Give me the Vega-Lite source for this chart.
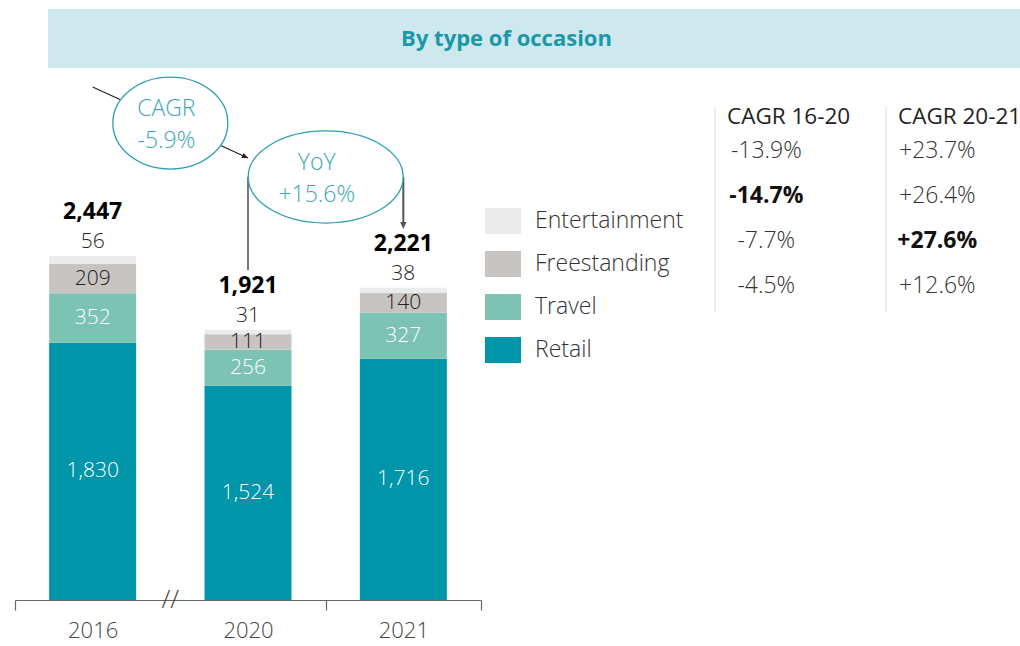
{
  "$schema": "https://vega.github.io/schema/vega-lite/v6.json",
  "background": "white",
  "padding": {"left": 14, "top": 9, "right": 0, "bottom": 4},
  "config": {
    "view": {"stroke": null},
    "font": "Open Sans",
    "locale": {"number": {"decimal": ".", "thousands": ",", "grouping": [3], "currency": ["$", ""], "minus": "-"}}
  },
  "datasets": {
    "occasion": [
      {"year": "2016", "category": "Retail", "value": 1830, "rank": 1},
      {"year": "2016", "category": "Travel", "value": 352, "rank": 2},
      {"year": "2016", "category": "Freestanding", "value": 209, "rank": 3},
      {"year": "2016", "category": "Entertainment", "value": 56, "rank": 4},
      {"year": "2020", "category": "Retail", "value": 1524, "rank": 1},
      {"year": "2020", "category": "Travel", "value": 256, "rank": 2},
      {"year": "2020", "category": "Freestanding", "value": 111, "rank": 3},
      {"year": "2020", "category": "Entertainment", "value": 31, "rank": 4},
      {"year": "2021", "category": "Retail", "value": 1716, "rank": 1},
      {"year": "2021", "category": "Travel", "value": 327, "rank": 2},
      {"year": "2021", "category": "Freestanding", "value": 140, "rank": 3},
      {"year": "2021", "category": "Entertainment", "value": 38, "rank": 4}
    ],
    "totals": [
      {"year": "2016", "total": 2447},
      {"year": "2020", "total": 1921},
      {"year": "2021", "total": 2221}
    ],
    "cagr": [
      {"period": "CAGR 16-20", "category": "Entertainment", "growth": -0.139},
      {"period": "CAGR 16-20", "category": "Freestanding", "growth": -0.147},
      {"period": "CAGR 16-20", "category": "Travel", "growth": -0.077},
      {"period": "CAGR 16-20", "category": "Retail", "growth": -0.045},
      {"period": "CAGR 20-21", "category": "Entertainment", "growth": 0.237},
      {"period": "CAGR 20-21", "category": "Freestanding", "growth": 0.264},
      {"period": "CAGR 20-21", "category": "Travel", "growth": 0.276},
      {"period": "CAGR 20-21", "category": "Retail", "growth": 0.126}
    ],
    "periods": [
      {"period": "CAGR 16-20"},
      {"period": "CAGR 20-21"}
    ]
  },
  "spacing": 4,
  "vconcat": [
    {
      "width": 973,
      "height": 59,
      "view": {"fill": "#cde9ed", "stroke": null},
      "data": {"values": [{"title": "By type of occasion"}]},
      "mark": {"type": "text", "fontSize": 22, "fontWeight": "bold", "font": "Open Sans", "color": "#1a97a9", "dx": -28},
      "encoding": {
        "text": {"field": "title"},
        "y": {"field": "title", "type": "nominal", "axis": {"labels": false, "ticks": false, "domain": false, "title": null, "minExtent": 33, "maxExtent": 33}}
      }
    },
    {
      "hconcat": [
        {
          "width": 433,
          "height": 528,
          "layer": [
            {
              "data": {"name": "occasion"},
              "mark": {"type": "bar", "width": {"band": 0.56}},
              "encoding": {
                "x": {
                  "field": "year", "type": "nominal",
                  "scale": {"paddingInner": 0, "paddingOuter": 0, "range": [-33, 433]},
                  "axis": {
                    "title": null, "labelAngle": 0, "tickBand": "extent", "tickSize": 10,
                    "tickColor": "#666", "tickWidth": 1.2, "domainColor": "#666", "domainWidth": 1.2,
                    "labelFontSize": 22, "labelFont": "Open Sans", "labelFontWeight": 300, "labelColor": "#444",
                    "labelPadding": 10,
                    "tickOpacity": {"condition": {"test": "datum.value === '2016'", "value": 0}, "value": 1}
                  }
                },
                "y": {"field": "value", "type": "quantitative", "stack": "zero", "scale": {"domain": [0, 3756], "nice": false}, "axis": null},
                "color": {
                  "field": "category", "type": "nominal",
                  "scale": {"domain": ["Entertainment", "Freestanding", "Travel", "Retail"], "range": ["#ebebeb", "#c8c4c1", "#7cc3b4", "#0095a8"]},
                  "legend": {
                    "orient": "none", "legendX": 437, "legendY": 194, "title": null,
                    "symbolType": "M -1 -0.72 L 1 -0.72 L 1 0.72 L -1 0.72 Z", "symbolSize": 1296,
                    "symbolStrokeWidth": 0, "labelFontSize": 23, "labelFont": "Open Sans", "labelFontWeight": 300,
                    "labelColor": "#333", "labelOffset": 14, "rowPadding": 12, "padding": 0
                  }
                },
                "order": {"field": "rank", "sort": "ascending"}
              }
            },
            {
              "data": {"name": "occasion"},
              "transform": [{"filter": "datum.category !== 'Entertainment'"}],
              "mark": {"type": "text", "fontSize": 21, "fontWeight": 300, "font": "Open Sans"},
              "encoding": {
                "x": {"field": "year", "type": "nominal"},
                "y": {"field": "value", "type": "quantitative", "stack": "zero", "bandPosition": 0.5},
                "detail": {"field": "category"},
                "order": {"field": "rank", "sort": "ascending"},
                "text": {"field": "value", "type": "quantitative", "format": ","},
                "color": {"condition": {"test": "datum.category === 'Freestanding'", "value": "#222"}, "value": "white"}
              }
            },
            {
              "data": {"name": "occasion"},
              "transform": [
                {"stack": "value", "groupby": ["year"], "sort": [{"field": "rank", "order": "ascending"}], "as": ["v0", "v1"]},
                {"filter": "datum.category === 'Entertainment'"}
              ],
              "mark": {"type": "text", "fontSize": 21, "fontWeight": 300, "font": "Open Sans", "baseline": "bottom", "dy": -4, "color": "#222"},
              "encoding": {
                "x": {"field": "year", "type": "nominal"},
                "y": {"field": "v1", "type": "quantitative"},
                "text": {"field": "value", "type": "quantitative", "format": ","}
              }
            },
            {
              "data": {"name": "totals"},
              "mark": {"type": "text", "fontSize": 23, "fontWeight": "bold", "font": "Open Sans", "baseline": "bottom", "dy": -32, "color": "#000"},
              "encoding": {
                "x": {"field": "year", "type": "nominal"},
                "y": {"field": "total", "type": "quantitative"},
                "text": {"field": "total", "type": "quantitative", "format": ","}
              }
            },
            {
              "data": {"values": [{}]},
              "mark": {"type": "rule", "color": "#222", "strokeWidth": 1.2},
              "encoding": {
                "x": {"datum": "2016", "type": "nominal", "bandPosition": 0.5},
                "x2": {"datum": "2020"},
                "y": {"datum": 3649, "type": "quantitative"},
                "y2": {"datum": 3144}
              }
            },
            {
              "data": {"values": [{}]},
              "mark": {"type": "point", "shape": "M 0 0 L -0.45 -1 L 0.45 -1 Z", "size": 144, "angle": 294.6, "filled": true, "color": "#222", "opacity": 1},
              "encoding": {
                "x": {"datum": "2020", "type": "nominal"},
                "y": {"datum": 3144, "type": "quantitative"}
              }
            },
            {
              "data": {"values": [{}]},
              "mark": {"type": "rule", "color": "#222", "strokeWidth": 1.2},
              "encoding": {
                "x": {"datum": "2020", "type": "nominal"},
                "y": {"datum": 3009, "type": "quantitative"},
                "y2": {"datum": 2345}
              }
            },
            {
              "data": {"values": [{}]},
              "mark": {"type": "rule", "color": "#555", "strokeWidth": 2},
              "encoding": {
                "x": {"datum": "2021", "type": "nominal"},
                "y": {"datum": 3009, "type": "quantitative"},
                "y2": {"datum": 2680}
              }
            },
            {
              "data": {"values": [{}]},
              "mark": {"type": "point", "shape": "M 0 0 L -0.45 -1 L 0.45 -1 Z", "size": 196, "filled": true, "color": "#555", "opacity": 1},
              "encoding": {
                "x": {"datum": "2021", "type": "nominal"},
                "y": {"datum": 2640, "type": "quantitative"}
              }
            },
            {
              "data": {"values": [{}]},
              "mark": {"type": "point", "shape": "M -1 0 C -1 -0.4418 -0.5523 -0.8 0 -0.8 C 0.5523 -0.8 1 -0.4418 1 0 C 1 0.4418 0.5523 0.8 0 0.8 C -0.5523 0.8 -1 0.4418 -1 0 Z", "size": 13225, "filled": true, "fill": "white", "fillOpacity": 1, "stroke": "#2b9fb1", "strokeWidth": 1.3, "opacity": 1},
              "encoding": {
                "x": {"datum": "2020", "type": "nominal", "bandPosition": 0},
                "y": {"datum": 3393, "type": "quantitative"}
              }
            },
            {
              "data": {"values": [{}]},
              "mark": {"type": "point", "shape": "M -1 0 C -1 -0.328 -0.5523 -0.594 0 -0.594 C 0.5523 -0.594 1 -0.328 1 0 C 1 0.328 0.5523 0.594 0 0.594 C -0.5523 0.594 -1 0.328 -1 0 Z", "size": 24025, "filled": true, "fill": "white", "fillOpacity": 1, "stroke": "#2b9fb1", "strokeWidth": 1.3, "opacity": 1},
              "encoding": {
                "x": {"datum": "2021", "type": "nominal", "bandPosition": 0},
                "y": {"datum": 3009, "type": "quantitative"}
              }
            },
            {
              "data": {"values": [{}]},
              "mark": {"type": "text", "text": ["CAGR", "-5.9%"], "lineHeight": 32, "fontSize": 23, "fontWeight": 300, "font": "Open Sans", "color": "#3aa7b7", "baseline": "middle", "dx": -4},
              "encoding": {
                "x": {"datum": "2020", "type": "nominal", "bandPosition": 0},
                "y": {"datum": 3493, "type": "quantitative"}
              }
            },
            {
              "data": {"values": [{}]},
              "mark": {"type": "text", "text": ["YoY", "+15.6%"], "lineHeight": 32, "fontSize": 23, "fontWeight": 300, "font": "Open Sans", "color": "#3aa7b7", "baseline": "middle", "dx": -9},
              "encoding": {
                "x": {"datum": "2021", "type": "nominal", "bandPosition": 0},
                "y": {"datum": 3109, "type": "quantitative"}
              }
            },
            {
              "data": {"values": [{}]},
              "mark": {"type": "text", "text": "//", "fontSize": 26, "fontWeight": 300, "font": "Open Sans", "color": "#444", "baseline": "middle"},
              "encoding": {
                "x": {"datum": "2020", "type": "nominal", "bandPosition": 0},
                "y": {"datum": 0, "type": "quantitative"}
              }
            }
          ]
        },
        {
          "width": 306,
          "height": 294,
          "layer": [
            {
              "data": {"name": "periods"},
              "mark": {"type": "rule", "color": "#e3e3e3", "strokeWidth": 1.2, "yOffset": -44, "y2Offset": 26},
              "encoding": {
                "x": {"field": "period", "type": "nominal", "bandPosition": 0, "scale": {"domain": ["CAGR 16-20", "CAGR 20-21"], "range": [0, 342], "paddingInner": 0, "paddingOuter": 0}, "axis": null},
                "y": {"datum": "Entertainment", "type": "nominal", "scale": {"domain": ["Entertainment", "Freestanding", "Travel", "Retail"], "range": [56, 237], "paddingInner": 0, "paddingOuter": 0}, "axis": null},
                "y2": {"datum": "Retail"}
              }
            },
            {
              "data": {"name": "periods"},
              "mark": {"type": "text", "align": "left", "dx": 12, "dy": -34, "fontSize": 22.5, "font": "Open Sans", "color": "#222"},
              "encoding": {
                "x": {"field": "period", "type": "nominal", "bandPosition": 0},
                "y": {"datum": "Entertainment", "type": "nominal"},
                "text": {"field": "period"}
              }
            },
            {
              "data": {"name": "cagr"},
              "transform": [{"filter": "!((datum.period === 'CAGR 16-20' && datum.category === 'Freestanding') || (datum.period === 'CAGR 20-21' && datum.category === 'Travel'))"}],
              "mark": {"type": "text", "fontSize": 23, "fontWeight": 300, "font": "Open Sans", "color": "#333"},
              "encoding": {
                "x": {"field": "period", "type": "nominal", "bandPosition": 0.3},
                "y": {"field": "category", "type": "nominal"},
                "text": {"field": "growth", "type": "quantitative", "format": "+.1%"}
              }
            },
            {
              "data": {"name": "cagr"},
              "transform": [{"filter": "(datum.period === 'CAGR 16-20' && datum.category === 'Freestanding') || (datum.period === 'CAGR 20-21' && datum.category === 'Travel')"}],
              "mark": {"type": "text", "fontSize": 23, "fontWeight": "bold", "font": "Open Sans", "color": "#111"},
              "encoding": {
                "x": {"field": "period", "type": "nominal", "bandPosition": 0.3},
                "y": {"field": "category", "type": "nominal"},
                "text": {"field": "growth", "type": "quantitative", "format": "+.1%"}
              }
            }
          ]
        }
      ],
      "spacing": 234,
      "bounds": "flush"
    }
  ]
}
